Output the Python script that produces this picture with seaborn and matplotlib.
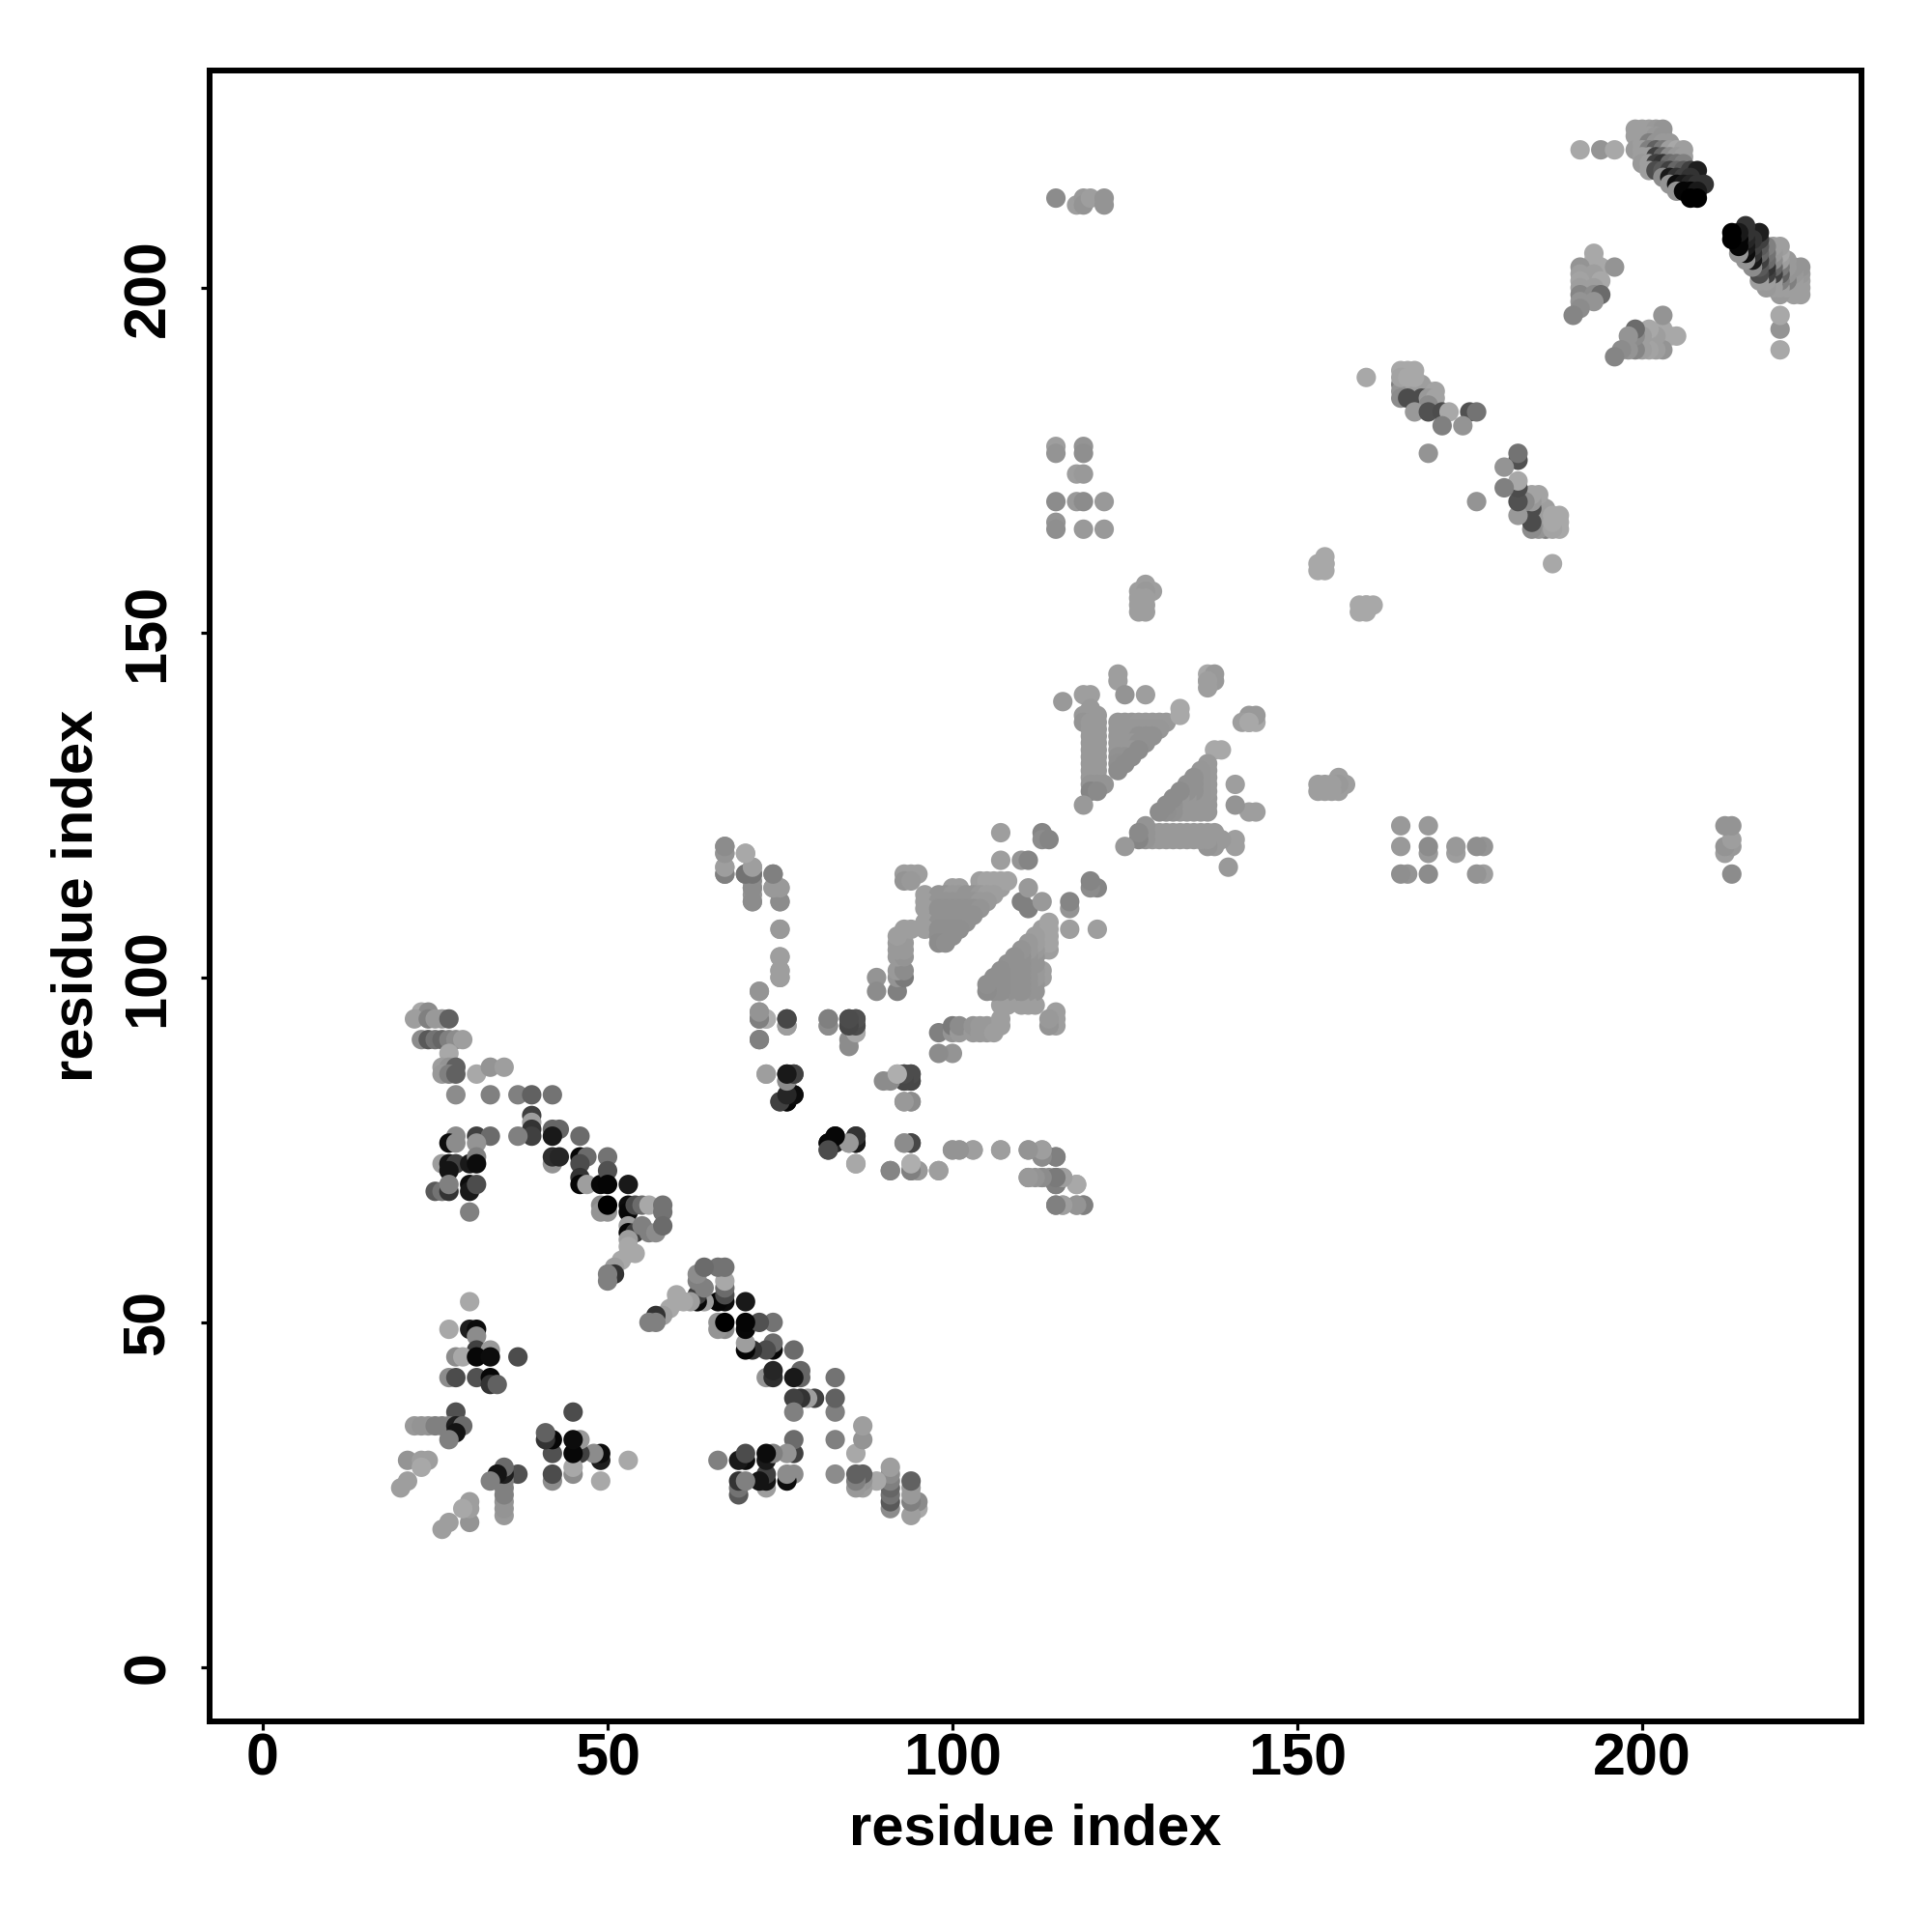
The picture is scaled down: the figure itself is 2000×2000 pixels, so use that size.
import pandas as pd
import matplotlib
matplotlib.use('Agg')
import matplotlib.pyplot as plt
import seaborn as sns

# contacts read off the upper-left half of the map: (residue i, residue j, grey level)
# the map is symmetric, the other half is the same contacts flipped
contacts_n_term = [
    (23, 95, .66), (24, 95, .55), (22, 94, .62), (24, 94, .5), (25, 94, .6), (26, 94, .6), (27, 94, .38),
    (23, 91, .55), (24, 91, .35), (25, 91, .45), (26, 91, .4), (27, 91, .5), (28, 91, .55), (29, 91, .62),
    (27, 89, .66), (26, 87, .62), (27, 87, .58), (28, 87, .38), (26, 86, .6), (27, 86, .5), (28, 86, .38),
    (31, 86, .66), (33, 87, .58), (35, 87, .62), (28, 83, .55), (33, 83, .5), (37, 83, .5), (39, 83, .38),
    (42, 83, .45), (39, 80, .25), (39, 79, .62), (39, 78, .2), (39, 77, .25), (37, 77, .5),
    (42, 78, .4), (43, 78, .4), (42, 77, .1), (46, 77, .42), (28, 77, .55), (31, 77, .25), (33, 77, .42),
    (27, 76, .05), (28, 76, .55), (31, 76, .58), (26, 73, .62), (27, 73, .08), (28, 73, .25), (30, 73, .1),
    (31, 74, .5), (31, 73, .05), (27, 72, .08), (25, 69, .35), (26, 69, .45), (27, 69, .2), (27, 70, .5),
    (30, 70, .05), (30, 69, .1), (31, 70, .3), (30, 66, .5),
]
contacts_chain = [
    (42, 73, .58), (42, 74, .18), (43, 74, .15), (46, 74, .03), (47, 74, .42), (50, 74, .45),
    (46, 73, .3), (46, 71, .2), (46, 70, .02), (47, 70, .62), (49, 70, .03), (50, 72, .32), (50, 70, .02), (53, 70, .1),
    (49, 67, .55), (49, 66, .58), (50, 66, .58), (50, 67, .0), (53, 67, .05), (53, 66, .03), (54, 67, .3), (55, 67, .42),
    (56, 67, .66), (58, 67, .45), (58, 66, .45), (53, 64, .62), (53, 63, .03), (54, 63, .25), (55, 64, .5), (56, 63, .5),
    (57, 63, .55), (58, 64, .42), (53, 62, .62), (53, 61, .66), (54, 60, .66), (53, 60, .66), (52, 59, .66),
    (51, 58, .62), (51, 57, .2), (50, 57, .5), (50, 56, .5),
]
contacts_loop = [
    (30, 53, .66), (27, 49, .66), (30, 49, .12), (31, 49, .05), (31, 48, .55), (31, 46, .25), (33, 46, .6),
    (28, 45, .55), (29, 45, .66), (31, 45, .03), (33, 45, .05), (37, 45, .3), (27, 42, .55), (28, 42, .3),
    (31, 42, .32), (33, 42, .03), (33, 41, .2), (34, 41, .38), (28, 37, .32), (22, 35, .6), (23, 35, .58),
    (24, 35, .58), (25, 35, .5), (26, 35, .5), (27, 35, .5), (28, 35, .12), (29, 35, .42), (28, 34, .08), (27, 33, .5),
    (21, 30, .58), (23, 30, .62), (24, 30, .62), (23, 29, .66), (21, 27, .62), (20, 26, .62),
]
contacts_mid_left = [
    (67, 119, .5), (67, 118, .58), (67, 116, .62), (67, 115, .5), (70, 118, .66), (70, 115, .5), (71, 116, .62), (71, 115, .48),
    (71, 113, .55), (71, 112, .58), (71, 111, .6), (74, 115, .5), (74, 113, .55), (75, 113, .62), (75, 111, .58),
    (75, 107, .62), (75, 103, .62), (75, 101, .58), (75, 100, .58), (72, 98, .62), (72, 95, .6), (72, 94, .5),
    (73, 94, .68), (76, 94, .28), (76, 93, .55), (72, 91, .52), (82, 94, .55), (82, 93, .6), (85, 94, .28), (86, 94, .3),
    (85, 93, .28), (86, 93, .3), (85, 91, .55), (86, 92, .68),
    (73, 86, .66), (76, 86, .1), (77, 86, .2), (76, 85, .6), (77, 83, .03), (76, 82, .03), (75, 82, .3),
    (90, 85, .55), (92, 86, .66), (93, 86, .3), (94, 86, .32), (93, 85, .28), (94, 85, .3), (93, 82, .55), (94, 82, .5),
    (82, 76, .03), (83, 77, .05), (82, 75, .25), (83, 76, .15), (85, 76, .55), (86, 77, .25), (86, 76, .1), (86, 73, .62),
    (93, 76, .62), (94, 76, .28), (91, 72, .5), (94, 73, .68), (94, 72, .5), (95, 72, .58), (98, 72, .58),
    (100, 75, .62), (101, 75, .62), (103, 75, .62), (107, 75, .6), (111, 75, .55), (113, 75, .6), (113, 74, .6), (115, 74, .5),
    (111, 71, .55), (113, 71, .55), (114, 71, .55), (115, 71, .45), (115, 70, .45), (116, 71, .62), (118, 70, .66),
    (115, 67, .5), (116, 67, .62), (118, 67, .58), (119, 67, .55),
]
contacts_band_100 = [
    (89, 100, .58), (89, 98, .55), (92, 98, .5), (92, 100, .58), (93, 100, .48), (92, 101, .6), (93, 101, .55),
    (92, 103, .6), (93, 103, .58), (92, 104, .6), (93, 104, .6), (92, 105, .6), (93, 105, .6), (92, 106, .62),
    (93, 107, .62), (94, 107, .62), (93, 115, .62), (94, 115, .62), (95, 115, .62), (93, 114, .58), (94, 114, .6),
    (107, 121, .62), (107, 117, .62), (110, 117, .58), (111, 117, .52), (113, 121, .52), (113, 120, .55), (114, 120, .52),
    (110, 111, .5), (111, 113, .6),
    (100, 113, .62), (101, 113, .62), (104, 113, .62), (105, 113, .62), (106, 113, .62), (107, 113, .62),
    (104, 114, .62), (105, 114, .64), (106, 114, .64), (107, 114, .64), (108, 114, .64),
    (96, 112, .62), (98, 112, .58), (99, 112, .58), (100, 112, .6), (101, 112, .6), (102, 112, .58), (103, 112, .58), (104, 112, .6), (105, 112, .62), (106, 112, .62),
    (96, 111, .62), (98, 111, .58), (99, 111, .58), (100, 111, .58), (101, 111, .58), (102, 111, .58), (103, 111, .58), (104, 111, .6), (105, 111, .6),
    (96, 110, .62), (98, 110, .57), (99, 110, .57), (100, 110, .57), (101, 110, .57), (102, 110, .57), (103, 110, .57), (104, 110, .58),
    (98, 109, .57), (99, 109, .57), (100, 109, .57), (101, 109, .57), (102, 109, .57), (103, 109, .57),
    (96, 108, .62), (98, 108, .57), (99, 108, .57), (100, 108, .57), (101, 108, .57), (102, 108, .57),
    (96, 107, .62), (98, 107, .56), (99, 107, .56), (100, 107, .56), (101, 107, .56),
    (98, 106, .56), (99, 106, .56), (100, 106, .56), (98, 105, .55), (99, 105, .56),
]
contacts_band_130 = [
    (124, 144, .62), (124, 143, .62), (125, 141, .58), (128, 141, .62), (119, 141, .62), (120, 141, .62), (116, 140, .6),
    (133, 139, .66), (137, 144, .66), (138, 144, .6), (137, 143, .66), (143, 138, .6), (142, 137, .62), (143, 137, .62), (138, 133, .66),
    (120, 139, .6), (119, 138, .6), (120, 138, .6), (121, 138, .6), (119, 137, .58),
    (120, 137, .6), (121, 137, .6), (120, 136, .6), (121, 136, .6), (120, 135, .6), (121, 135, .6),
    (120, 134, .6), (121, 134, .6), (120, 133, .6), (121, 133, .6), (120, 132, .6), (121, 132, .6),
    (120, 131, .6), (121, 131, .6), (120, 130, .6), (121, 130, .6), (120, 129, .6), (121, 129, .6),
    (120, 128, .58), (121, 128, .58), (122, 128, .58), (120, 127, .52), (121, 127, .54), (119, 125, .6),
    (124, 137, .59), (125, 137, .59), (126, 137, .59), (127, 137, .6), (128, 137, .6), (129, 137, .6), (130, 137, .6), (131, 137, .6),
    (124, 136, .59), (125, 136, .59), (126, 136, .59), (127, 136, .59), (128, 136, .59), (129, 136, .59), (130, 136, .59),
    (124, 135, .59), (125, 135, .59), (126, 135, .59), (127, 135, .57), (128, 135, .57), (129, 135, .57),
    (124, 134, .59), (125, 134, .59), (126, 134, .59), (127, 134, .57), (128, 134, .57),
    (124, 133, .59), (125, 133, .59), (126, 133, .59), (127, 133, .55),
    (124, 132, .57), (125, 132, .57), (126, 132, .55), (124, 131, .56), (125, 131, .55), (124, 130, .55),
]
contacts_far = [
    (115, 177, .62), (115, 176, .58), (119, 177, .58), (119, 176, .56), (118, 173, .62), (119, 173, .6),
    (115, 169, .55), (118, 169, .6), (119, 169, .55), (122, 169, .6), (115, 166, .58), (115, 165, .56),
    (119, 165, .6), (122, 165, .6), (127, 156, .62), (128, 157, .62), (129, 156, .62), (128, 156, .6), (127, 155, .62),
    (128, 155, .62), (127, 154, .62), (128, 154, .62), (127, 153, .62), (128, 153, .62),
    (154, 161, .66), (153, 160, .66), (154, 160, .66), (160, 154, .66), (159, 154, .66), (159, 153, .66),
    (115, 213, .55), (118, 212, .62), (119, 213, .6), (119, 212, .58), (120, 213, .62), (122, 213, .58), (122, 212, .58),
    (160, 187, .66),
]
contacts_c_term = [
    (165, 186, .5), (166, 186, .42), (168, 186, .62), (165, 185, .58), (167, 185, .62), (169, 185, .62), (170, 185, .64),
    (165, 184, .55), (166, 184, .3), (168, 184, .3), (169, 184, .6), (170, 184, .64), (169, 183, .55),
    (167, 182, .6), (169, 182, .32), (171, 182, .3), (172, 182, .66), (175, 182, .32), (176, 182, .45),
    (171, 180, .5), (174, 180, .58), (169, 176, .58),
    (165, 188, .66), (166, 188, .66), (167, 188, .66), (165, 187, .64), (166, 187, .66), (167, 187, .66),
    (193, 205, .66), (193, 204, .66), (191, 203, .58), (194, 203, .66), (196, 203, .58), (191, 202, .62), (193, 202, .62),
    (194, 201, .66), (191, 201, .64), (191, 200, .62), (193, 200, .62), (191, 199, .52), (193, 199, .55), (194, 199, .42),
    (191, 198, .58), (193, 198, .58), (191, 197, .55), (190, 196, .52),
    (191, 220, .66), (194, 220, .58), (196, 220, .66),
    (199, 223, .62), (200, 223, .62), (201, 223, .62), (202, 223, .6), (203, 223, .58),
    (199, 222, .62), (200, 222, .62), (201, 222, .62), (202, 222, .6), (203, 222, .58),
    (199, 220, .6), (200, 221, .62), (201, 221, .5), (202, 221, .58), (203, 221, .6), (204, 221, .6),
    (200, 220, .62), (201, 220, .5), (202, 220, .38), (203, 220, .48), (204, 220, .62), (205, 220, .66), (206, 220, .62),
    (200, 219, .62), (201, 219, .62), (202, 219, .25), (203, 219, .4), (204, 219, .55), (205, 219, .6), (206, 219, .62),
    (200, 218, .6), (201, 218, .62), (202, 218, .25), (203, 218, .2), (204, 218, .42), (205, 218, .45), (206, 218, .5),
    (201, 217, .62), (202, 217, .3), (203, 217, .35), (204, 217, .25), (205, 217, .4), (206, 217, .35), (207, 217, .25), (208, 217, .12),
    (203, 216, .55), (204, 216, .1), (205, 216, .2), (206, 216, .25), (207, 216, .2),
    (204, 215, .58), (205, 215, .05), (206, 215, .1), (207, 215, .15), (208, 215, .2), (209, 215, .2),
    (205, 214, .58), (206, 214, .02), (207, 214, .02), (208, 214, .1), (207, 213, .0), (208, 213, .0),
]

contact_groups = [contacts_n_term, contacts_chain, contacts_loop, contacts_mid_left,
                  contacts_band_100, contacts_band_130, contacts_far, contacts_c_term]

x_ticks = [0, 50, 100, 150, 200]
y_ticks = [0, 50, 100, 150, 200]

upper = pd.DataFrame([c for group in contact_groups for c in group], columns=['i', 'j', 'grey'])
lower = upper.rename(columns={'i': 'j', 'j': 'i'})
df = pd.concat([upper, lower], ignore_index=True)

sns.set_theme(style='white')
plt.rcParams['font.family'] = ['Liberation Sans', 'DejaVu Sans']

fig = plt.figure(figsize=(20, 20), dpi=100)
ax = fig.add_axes([217 / 2000, 1 - 1782 / 2000, (1927 - 217) / 2000, (1782 - 73) / 2000])

sns.scatterplot(data=df, x='i', y='j', hue='grey', palette='gray', hue_norm=(0, 1),
                s=210, linewidth=0, legend=False, ax=ax)

ax.set_xlim(-7.7, 231.8)
ax.set_ylim(-7.85, 231.5)
ax.set_xticks(x_ticks)
ax.set_yticks(y_ticks)
ax.tick_params(axis='both', length=6.5, width=2.3, color='black', bottom=True, left=True,
               labelsize=44, labelcolor='black')
ax.tick_params(axis='x', pad=1.5)
ax.tick_params(axis='y', pad=18)
for t in ax.get_xticklabels():
    t.set_fontweight('bold')
for t in ax.get_yticklabels():
    t.set_fontweight('bold')
    t.set_rotation(90)
    t.set_va('center')
for s in ax.spines.values():
    s.set_linewidth(4.3)
    s.set_color('black')

ax.set_xlabel('residue index', fontsize=43, fontweight='bold', color='black', labelpad=12)
ax.set_ylabel('residue index', fontsize=43, fontweight='bold', color='black', labelpad=13.5)

fig.savefig('out.png', dpi=100, facecolor='white')
